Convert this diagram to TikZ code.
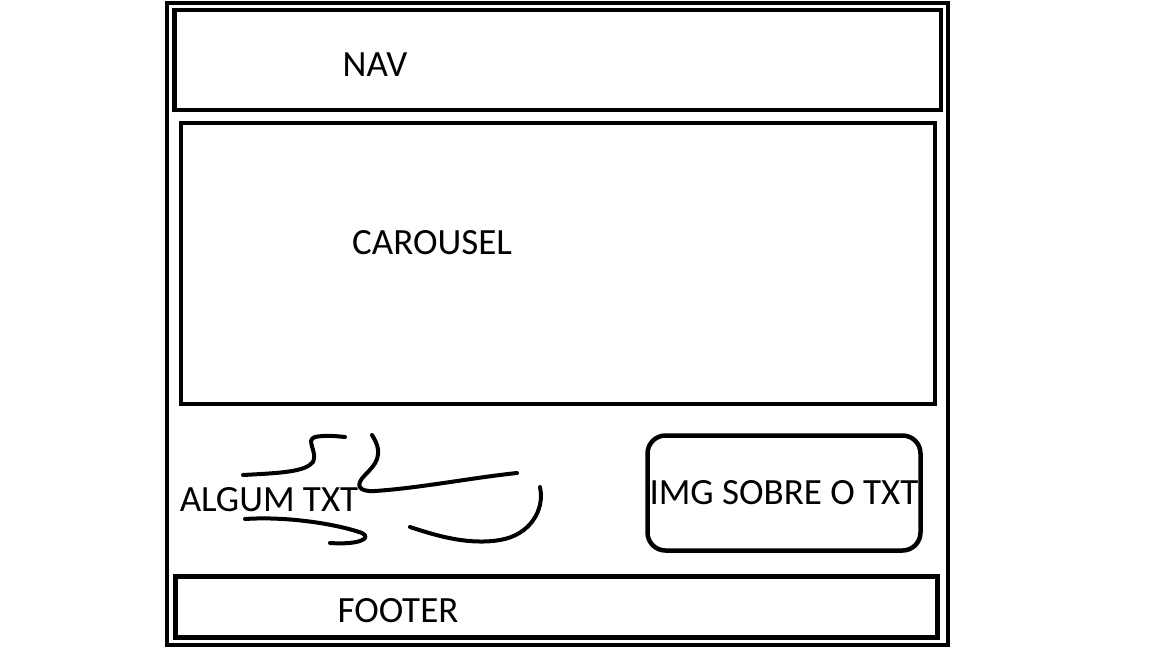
\documentclass[tikz,border=0pt]{standalone}
\usepackage{fontspec}
\setmainfont{Carlito}
\usepackage{tikz}
\usetikzlibrary{positioning}

\begin{document}
\begin{tikzpicture}[x=1pt,y=-1pt,
box/.style={draw,line width=4.5pt,inner sep=0pt,outer sep=0pt},
lbl/.style={inner sep=0pt,font=\fontsize{37}{44}\selectfont},
scrib/.style={line width=4pt,line cap=round,line join=round}]
\useasboundingbox (0,0) rectangle (1152,648);
\node[box,minimum width=781pt,minimum height=642pt] (page) at (557.5,324) {};
\node[box,minimum width=766.5pt,minimum height=100pt] (nav) at (557.75,60) {};
\node[box,minimum width=754pt,minimum height=281pt] (carousel) at (558,263.5) {};
\node[box,rounded corners=18pt,minimum width=273pt,minimum height=115pt] (img) at (784,493) {};
\node[box,minimum width=762pt,minimum height=61pt] (footer) at (556.5,607) {};
% labels
\node[lbl] (navtxt) at (375,65) {NAV};
\node[lbl] (carouseltxt) at (432,243) {CAROUSEL};
\node[lbl] (algumtxt) at (269,499.5) {ALGUM TXT};
\node[lbl] (imgtxt) at (784,492.5) {IMG SOBRE O TXT};
\node[lbl] (footertxt) at (398,611) {FOOTER};
% scribbles
\draw[scrib] (243,475) .. controls (280,473) and (305,472) .. (313,462)
  .. controls (318,452) and (305,440) .. (315,437) .. controls (325,435) and (335,436) .. (345,437);
\draw[scrib] (372,435) .. controls (385,455) and (375,465) .. (365,475)
  .. controls (355,485) and (358,492) .. (375,491) .. controls (420,488) and (470,478) .. (517,473);
\draw[scrib] (245,519) .. controls (290,516) and (340,525) .. (362,533)
  .. controls (372,538) and (360,545) .. (330,543);
\draw[scrib] (410,527) .. controls (440,537) and (470,545) .. (500,540)
  .. controls (530,535) and (545,510) .. (540,487);
\end{tikzpicture}
\end{document}
